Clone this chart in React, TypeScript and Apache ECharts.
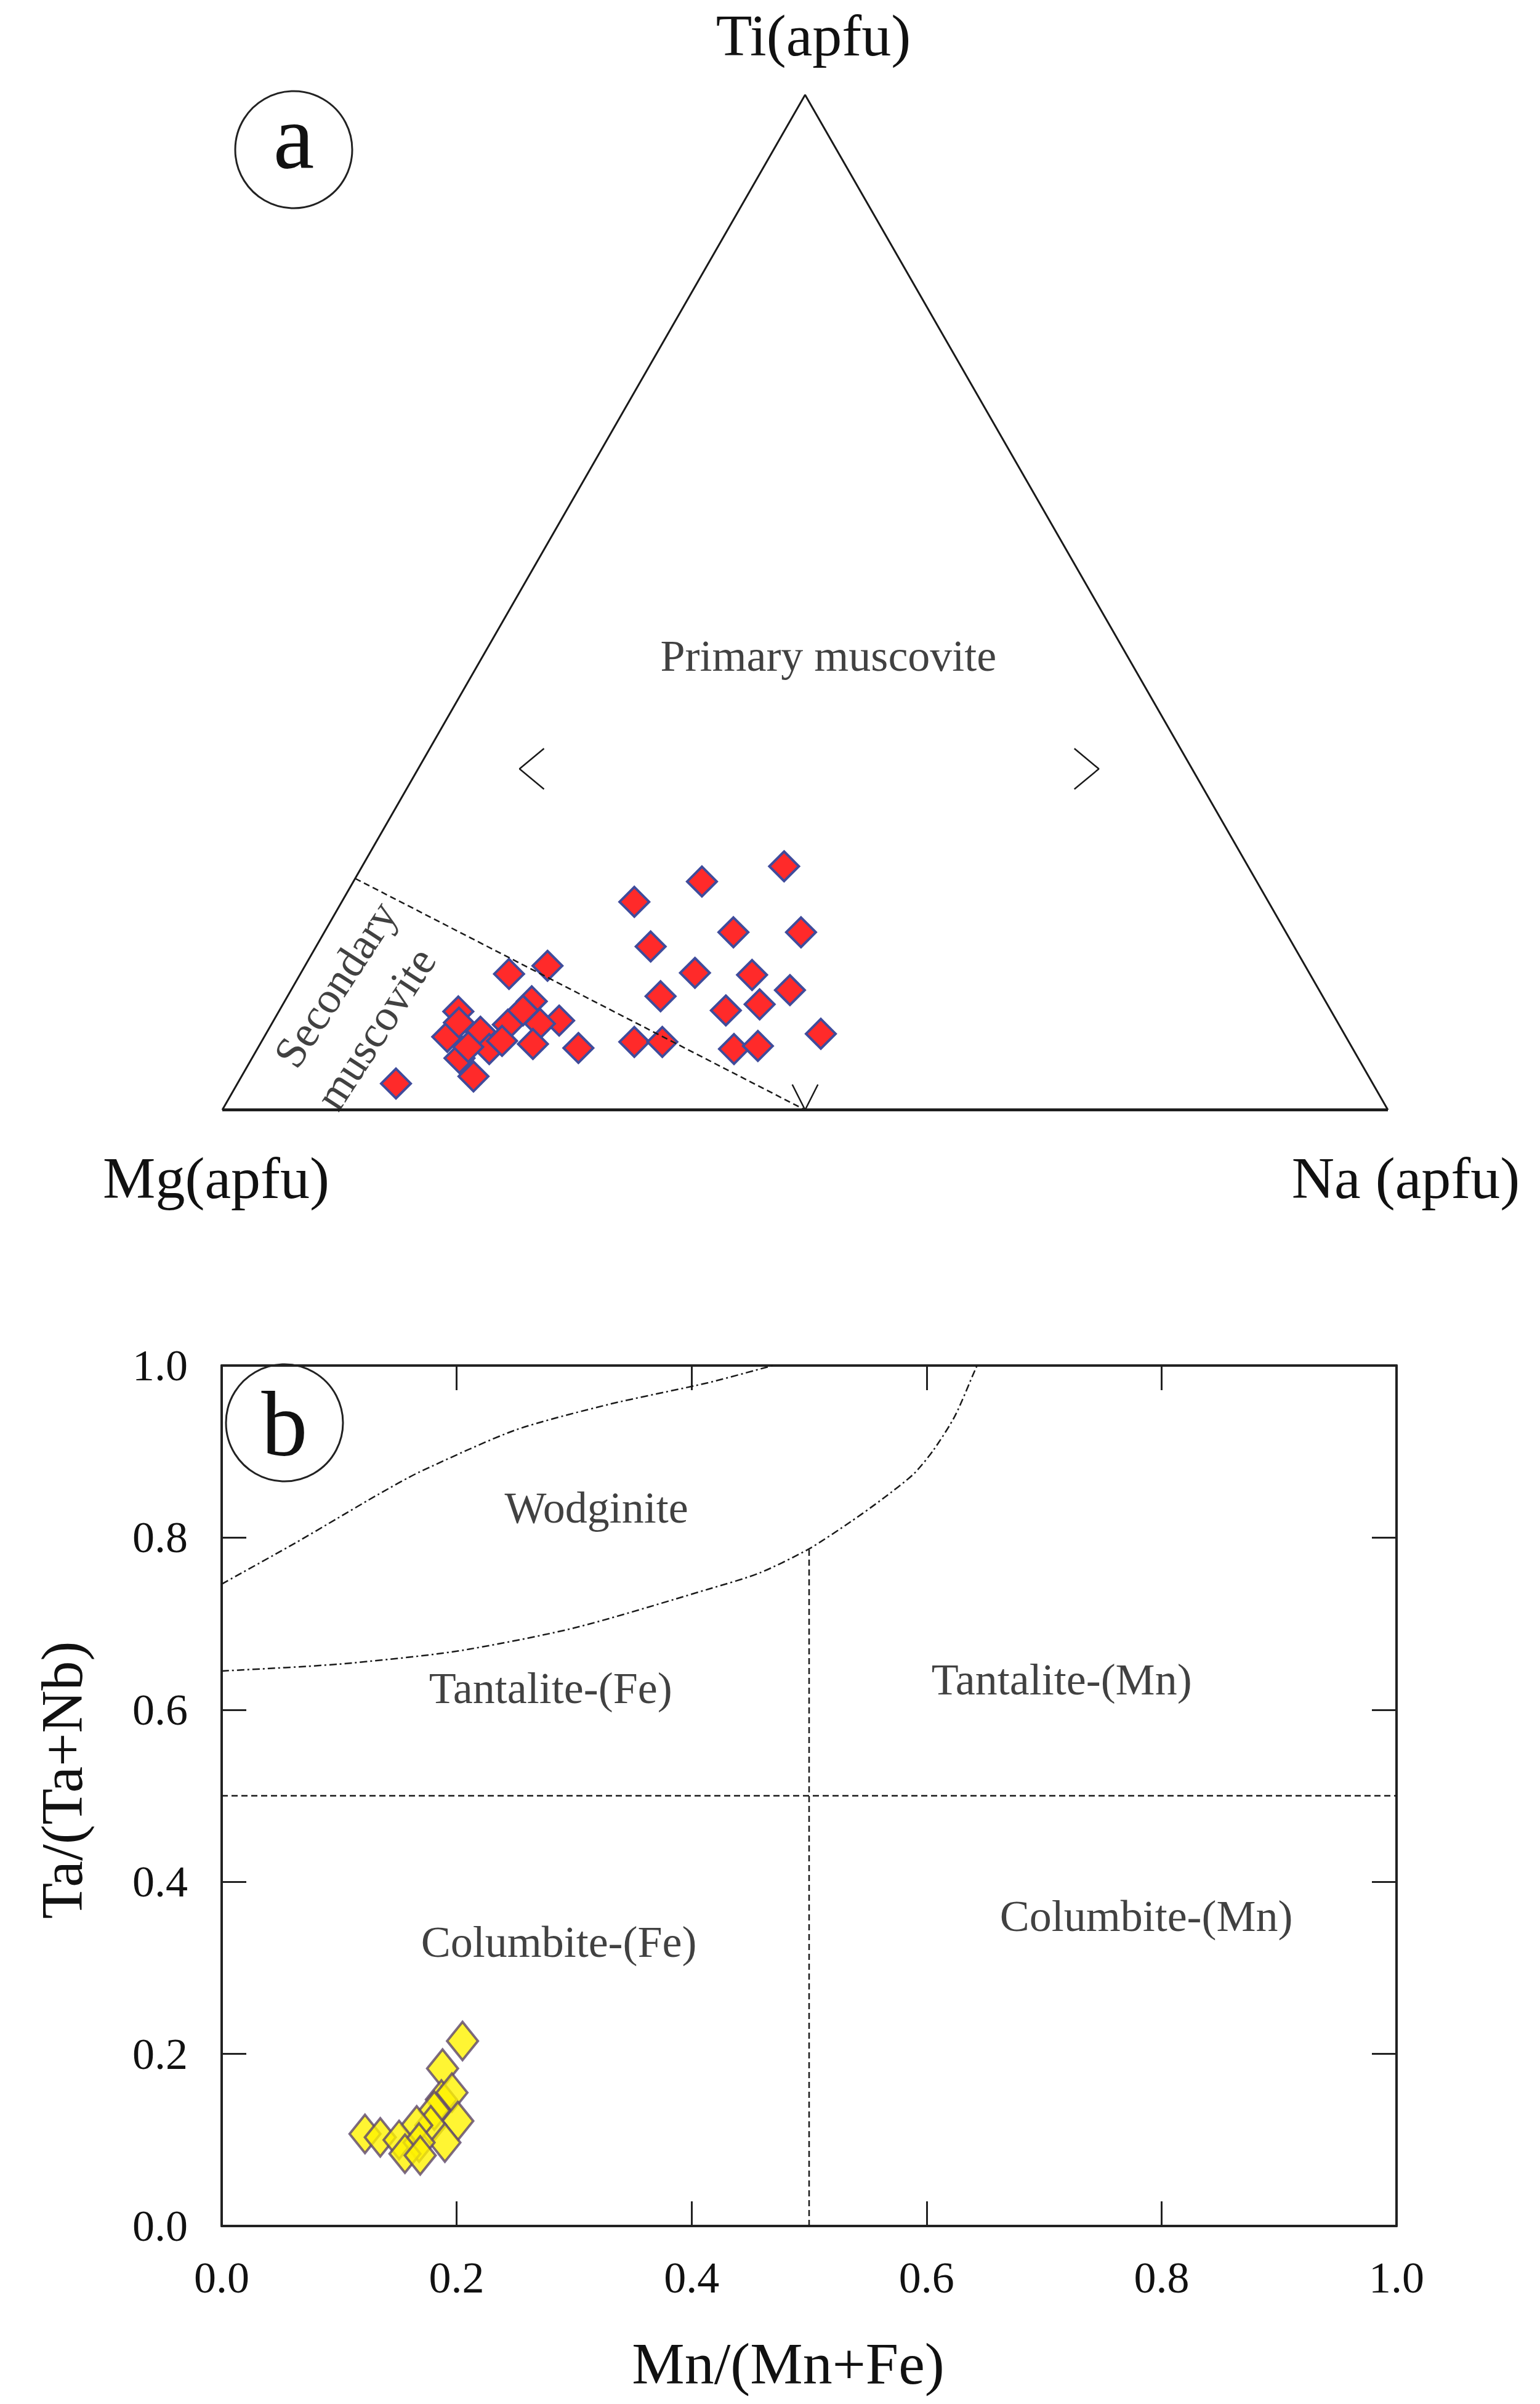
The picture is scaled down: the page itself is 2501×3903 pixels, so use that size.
import React, { useEffect, useRef } from "react";
import * as echarts from "echarts";

const W = 2501;
const H = 3903;
const FONT = "'Liberation Serif', 'Times New Roman', serif";

// ---------- Panel a: muscovite compositions (fractions) ----------
const muscMg = [
  0.544, 0.476, 0.398, 0.552, 0.474, 0.416, 0.527, 0.479, 0.568, 0.454, 0.519, 0.487, 0.613, 0.589, 0.449, 0.531, 0.509,
  0.838, 0.768, 0.687, 0.650, 0.749, 0.681, 0.667, 0.713, 0.740, 0.771, 0.685, 0.741, 0.701, 0.664, 0.771, 0.758, 0.726, 0.754, 0.693,
];
const muscTi = [
  0.205, 0.225, 0.240, 0.161, 0.175, 0.175, 0.135, 0.133, 0.112, 0.118, 0.098, 0.104, 0.067, 0.067, 0.075, 0.060, 0.063,
  0.026, 0.033, 0.134, 0.142, 0.097, 0.107, 0.088, 0.084, 0.077, 0.072, 0.085, 0.060, 0.065, 0.061, 0.051, 0.062, 0.068, 0.086, 0.098,
];
const muscNa = [
  0.251, 0.299, 0.362, 0.287, 0.351, 0.409, 0.338, 0.388, 0.320, 0.428, 0.383, 0.409, 0.320, 0.344, 0.476, 0.409, 0.428,
  0.136, 0.199, 0.179, 0.208, 0.154, 0.212, 0.245, 0.203, 0.183, 0.157, 0.230, 0.199, 0.234, 0.275, 0.178, 0.180, 0.206, 0.160, 0.209,
];

// secondary / primary boundary (Mg, Ti, Na) start & end
const boundaryMg = [0.772, 0.5];
const boundaryTi = [0.228, 0.0];
const boundaryNa = [0.0, 0.5];

// ---------- Panel b: columbite-tantalite ----------
const mnRatio = [0.205, 0.188, 0.187, 0.196, 0.201, 0.181, 0.178, 0.166, 0.190, 0.122, 0.135, 0.151, 0.168, 0.156, 0.169];
const taRatio = [0.215, 0.183, 0.147, 0.155, 0.122, 0.134, 0.117, 0.117, 0.097, 0.107, 0.103, 0.100, 0.097, 0.084, 0.082];

const wodgUpperX = [0, 0.063, 0.098, 0.133, 0.168, 0.25, 0.33, 0.414, 0.469];
const wodgUpperY = [0.746, 0.794, 0.822, 0.85, 0.876, 0.925, 0.955, 0.98, 1.0];
const wodgLowerX = [0, 0.1, 0.2, 0.3, 0.414, 0.458, 0.5, 0.536, 0.5625, 0.589, 0.606, 0.624, 0.641, 0.643];
const wodgLowerY = [0.645, 0.653, 0.668, 0.695, 0.74, 0.759, 0.787, 0.819, 0.845, 0.874, 0.902, 0.941, 0.994, 1.0];
const splitX = 0.5;
const splitTop = 0.787;

const regionNames = ["Wodginite", "Tantalite-(Fe)", "Tantalite-(Mn)", "Columbite-(Fe)", "Columbite-(Mn)"];
const regionX = [0.319, 0.28, 0.715, 0.287, 0.787];
const regionY = [0.835, 0.625, 0.635, 0.33, 0.36];

const tern = (mg: number, ti: number, na: number) => {
  const s = mg + ti + na;
  return [(na + ti / 2) / s, ti / s];
};

export default function App() {
  const ref = useRef<HTMLDivElement>(null);
  useEffect(() => {
    if (!ref.current) return;
    const chart = echarts.init(ref.current, undefined, { renderer: "svg" });

    const muscData = muscMg.map((mg, i) => tern(mg, muscTi[i], muscNa[i]));
    const boundary = boundaryMg.map((mg, i) => tern(mg, boundaryTi[i], boundaryNa[i]));
    const colData = mnRatio.map((x, i) => [x, taRatio[i]]);

    const black = "#1a1a1a";
    const edge = { color: black, width: 3 };
    const lineBase = {
      type: "line" as const,
      xAxisIndex: 0,
      yAxisIndex: 0,
      symbol: "none",
      silent: true,
    };
    const labelText = { fontFamily: FONT, fontSize: 72, color: "#111", textBorderWidth: 0 };

    const tickAxis = (extra: any) => ({
      type: "value",
      min: 0,
      max: 1,
      interval: 0.2,
      gridIndex: 1,
      splitLine: { show: false },
      axisLine: { show: true, onZero: false, lineStyle: { color: "#222", width: 4 } },
      axisTick: { show: true, inside: true, length: 40, lineStyle: { color: "#222", width: 3 } },
      ...extra,
    });

    const txt = (text: string, x: number, y: number, size: number, rotation = 0) => ({
      type: "text",
      x,
      y,
      rotation,
      style: {
        text,
        fontFamily: FONT,
        fontSize: size,
        fill: "#111",
        align: "center",
        verticalAlign: "middle",
        textAlign: "center",
        textVerticalAlign: "middle",
      },
    });

    const option: any = {
      animation: false,
      backgroundColor: "#ffffff",
      grid: [
        { left: 361, top: 154, width: 1893, height: 1648 },
        { left: 360, top: 2217, width: 1908, height: 1397 },
      ],
      xAxis: [
        { type: "value", gridIndex: 0, min: 0, max: 1, show: false },
        tickAxis({
          position: "bottom",
          axisLabel: {
            show: true,
            fontFamily: FONT,
            fontSize: 72,
            color: "#111",
            margin: 48,
            showMinLabel: true,
            showMaxLabel: true,
            formatter: (v: number) => v.toFixed(1),
          },
          name: "Mn/(Mn+Fe)",
          nameLocation: "middle",
          nameGap: 175,
          nameTextStyle: { fontFamily: FONT, fontSize: 96, color: "#111", padding: [0, 68, 0, 0] },
        }),
        tickAxis({ position: "top", axisLabel: { show: false } }),
      ],
      yAxis: [
        { type: "value", gridIndex: 0, min: 0, max: 1, show: false },
        tickAxis({
          position: "left",
          axisLabel: {
            show: true,
            fontFamily: FONT,
            fontSize: 72,
            color: "#111",
            margin: 55,
            showMinLabel: true,
            showMaxLabel: true,
            formatter: (v: number) => v.toFixed(1),
          },
        }),
        tickAxis({ position: "right", axisLabel: { show: false } }),
      ],
      series: [
        // ---- panel a ----
        { ...lineBase, data: [[0, 0], [0.5, 1], [1, 0]], lineStyle: edge },
        { ...lineBase, data: [[0, 0], [1, 0]], lineStyle: { color: black, width: 5 } },
        { ...lineBase, data: boundary, lineStyle: { color: black, width: 2.5, type: [10, 6] } },
        { ...lineBase, data: [[0.489, 0.025], [0.5, 0], [0.511, 0.025]], lineStyle: { color: black, width: 2.5 } },
        { ...lineBase, data: [[0.276, 0.356], [0.255, 0.336], [0.276, 0.316]], lineStyle: { color: black, width: 2.5 } },
        { ...lineBase, data: [[0.731, 0.356], [0.752, 0.336], [0.731, 0.316]], lineStyle: { color: black, width: 2.5 } },
        {
          type: "scatter",
          xAxisIndex: 0,
          yAxisIndex: 0,
          symbol: "diamond",
          symbolSize: 48,
          data: muscData,
          itemStyle: { color: "#FF2A2A", borderColor: "#3F4C9C", borderWidth: 4, opacity: 1 },
          silent: true,
        },
        {
          type: "scatter",
          xAxisIndex: 0,
          yAxisIndex: 0,
          symbolSize: 0,
          silent: true,
          data: [{ value: [0.52, 0.447], name: "Primary muscovite" }],
          label: { show: true, position: "inside", formatter: "{b}", ...labelText },
        },
        {
          type: "scatter",
          xAxisIndex: 0,
          yAxisIndex: 0,
          symbolSize: 0,
          silent: true,
          data: [
            { value: [0.0972, 0.1238], name: "Secondary" },
            { value: [0.1315, 0.0801], name: "muscovite" },
          ],
          label: { show: true, position: "inside", rotate: 57, formatter: "{b}", ...labelText },
        },
        // ---- panel b ----
        {
          type: "line",
          xAxisIndex: 1,
          yAxisIndex: 1,
          symbol: "none",
          silent: true,
          data: [[0, 0.5], [1, 0.5]],
          lineStyle: { color: black, width: 2.5, type: [10, 6] },
        },
        {
          type: "line",
          xAxisIndex: 1,
          yAxisIndex: 1,
          symbol: "none",
          silent: true,
          data: [[splitX, 0], [splitX, splitTop]],
          lineStyle: { color: black, width: 2.5, type: [10, 6] },
        },
        {
          type: "line",
          xAxisIndex: 1,
          yAxisIndex: 1,
          symbol: "none",
          silent: true,
          smooth: 0.25,
          data: wodgUpperX.map((x, i) => [x, wodgUpperY[i]]),
          lineStyle: { color: black, width: 2.5, type: [12, 5, 3, 5] },
        },
        {
          type: "line",
          xAxisIndex: 1,
          yAxisIndex: 1,
          symbol: "none",
          silent: true,
          smooth: 0.25,
          data: wodgLowerX.map((x, i) => [x, wodgLowerY[i]]),
          lineStyle: { color: black, width: 2.5, type: [12, 5, 3, 5] },
        },
        {
          type: "scatter",
          xAxisIndex: 1,
          yAxisIndex: 1,
          symbol: "diamond",
          symbolSize: [50, 62],
          data: colData,
          itemStyle: { color: "#FFF200", borderColor: "#5C466E", borderWidth: 4 },
          silent: true,
        },
        {
          type: "scatter",
          xAxisIndex: 1,
          yAxisIndex: 1,
          symbolSize: 0,
          silent: true,
          data: regionNames.map((n, i) => ({ value: [regionX[i], regionY[i]], name: n })),
          label: { show: true, position: "inside", formatter: "{b}", ...labelText },
        },
      ],
      graphic: [
        { type: "circle", shape: { cx: 477, cy: 243, r: 95 }, style: { fill: "none", stroke: "#222", lineWidth: 3 } },
        txt("a", 477, 222, 150),
        { type: "circle", shape: { cx: 462, cy: 2310, r: 95 }, style: { fill: "#fff", stroke: "#222", lineWidth: 3 } },
        txt("b", 462, 2312, 150),
        txt("Ti(apfu)", 1321, 57, 96),
        txt("Mg(apfu)", 351, 1912, 96),
        txt("Na (apfu)", 2283, 1912, 96),
        txt("Ta/(Ta+Nb)", 100, 2890, 96, Math.PI / 2),
      ],
    };

    chart.setOption(option);
    return () => chart.dispose();
  }, []);

  return <div ref={ref} style={{ position: "absolute", left: 0, top: 0, width: W, height: H }} />;
}
